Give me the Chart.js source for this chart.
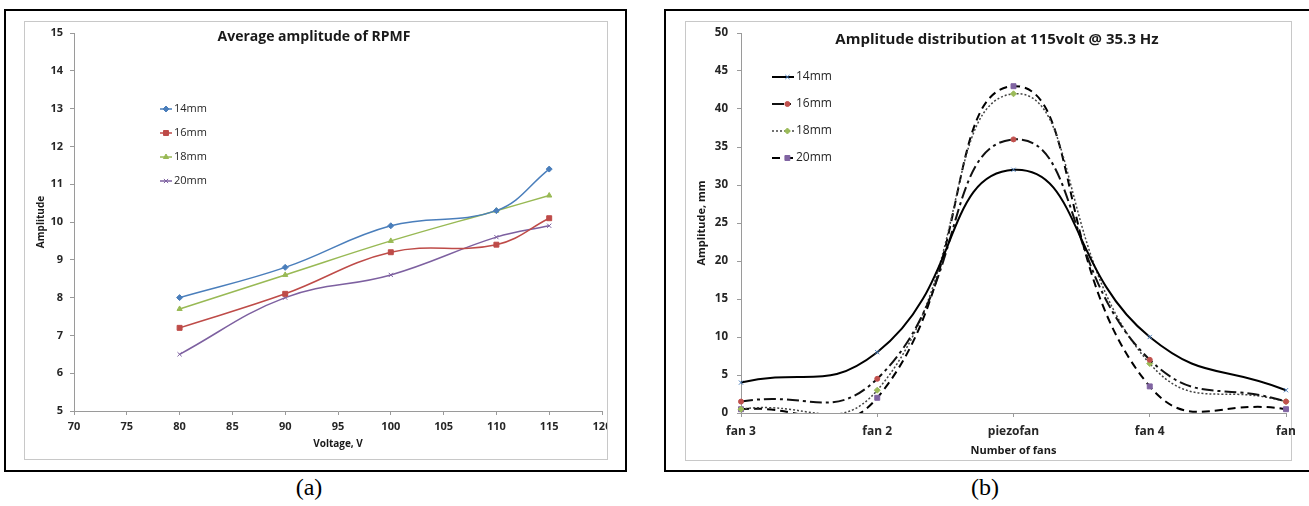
<!DOCTYPE html>
<html>
<head>
<meta charset="utf-8">
<script src="https://cdn.jsdelivr.net/npm/chart.js@4.4.1/dist/chart.umd.min.js"></script>
<style>
body { margin:0; background:#fff; width:1309px; height:506px; position:relative; overflow:hidden; font-family:"Open Sans", sans-serif; }
.frame { position:absolute; border:2px solid #000; box-sizing:border-box; }
.inner { position:absolute; border:1px solid #c8c8c8; box-sizing:border-box; }
.plot { position:absolute; }
.cap { position:absolute; top:474px; width:60px; text-align:center; font-family:"Liberation Serif", serif; font-size:24px; color:#000; }
</style>
</head>
<body>
<div class="frame" style="left:4px;top:9px;width:623px;height:463px"></div>
<div class="inner" style="left:24px;top:21px;width:584px;height:439px"></div>
<div class="plot" style="left:25px;top:22px;width:582px;height:437px"><canvas id="chartA"></canvas></div>
<div class="cap" style="left:279px">(a)</div>

<div class="frame" style="left:664px;top:9px;width:660px;height:463px"></div>
<div class="inner" style="left:685px;top:21px;width:607px;height:440px"></div>
<div class="plot" style="left:686px;top:22px;width:619px;height:438px"><canvas id="chartB"></canvas></div>
<div class="cap" style="left:955px">(b)</div>

<script>
// (a) Average amplitude of RPMF
var voltages = [80, 90, 100, 110, 115];
var amp14 = [8.0, 8.8, 9.9, 10.3, 11.4];
var amp16 = [7.2, 8.1, 9.2, 9.4, 10.1];
var amp18 = [7.7, 8.6, 9.5, 10.3, 10.7];
var amp20 = [6.5, 8.0, 8.6, 9.6, 9.9];
var seriesNames = ["14mm", "16mm", "18mm", "20mm"];

// (b) Amplitude distribution at 115volt
var fans = ["fan 3", "fan 2", "piezofan", "fan 4", "fan"];
var dist14 = [4, 8, 32, 10, 3];
var dist16 = [1.5, 4.5, 36, 7, 1.5];
var dist18 = [0.5, 3, 42, 6.5, 1.5];
var dist20 = [0.5, 2, 43, 3.5, 0.5];

var FONT = 'Open Sans';
function bold(size){ return {family: FONT, weight: 'bold', size: size}; }

// title + legend drawn inside the plot area, like the excel sheet
var insideText = {
    id: 'insideText',
    afterDraw: function (chart){
        var o = chart.options.plugins.insideText;
        var ctx = chart.ctx;
        ctx.save();
        ctx.fillStyle = '#1a1a1a';
        ctx.font = 'bold ' + o.titleSize + 'px "' + FONT + '"';
        ctx.textAlign = 'center';
        ctx.textBaseline = 'middle';
        ctx.fillText(o.title, o.titleX, o.titleY);
        ctx.font = o.legendSize + 'px "' + FONT + '"';
        ctx.fillStyle = '#262626';
        ctx.textAlign = 'left';
        chart.data.datasets.forEach(function (ds, i){
            var y = o.legendY + i * o.legendStep;
            ctx.save();
            ctx.strokeStyle = ds.borderColor;
            ctx.lineWidth = ds.borderWidth;
            ctx.setLineDash(ds.borderDash || []);
            ctx.beginPath();
            ctx.moveTo(o.legendX, y);
            ctx.lineTo(o.legendX + o.lineLen, y);
            ctx.stroke();
            ctx.setLineDash([]);
            ctx.fillStyle = ds.pointBackgroundColor;
            ctx.strokeStyle = ds.pointBorderColor;
            ctx.lineWidth = 1;
            Chart.helpers.drawPoint(ctx, {pointStyle: ds.pointStyle, radius: ds.pointRadius, rotation: 0, borderWidth: 1},
                o.legendX + o.lineLen * o.markAt, y);
            ctx.restore();
            ctx.fillText(ds.label, o.legendX + o.lineLen + 2, y);
        });
        ctx.restore();
    }
};

function xy(values){
    return values.map(function (v, i){ return {x: voltages[i], y: v}; });
}

var colorsA = ['#4A7EBB', '#BE4B48', '#98B954', '#7D60A0'];
var stylesA = ['rectRot', 'rect', 'triangle', 'crossRot'];
var seriesA = [amp14, amp16, amp18, amp20];

new Chart('chartA', {
    type: 'line',
    data: {
        datasets: seriesA.map(function (vals, i){
            return {
                label: seriesNames[i],
                data: xy(vals),
                borderColor: colorsA[i],
                borderWidth: 1.5,
                pointStyle: stylesA[i],
                pointRadius: i === 1 ? 3.5 : 3,
                pointBackgroundColor: colorsA[i],
                pointBorderColor: colorsA[i],
                pointBorderWidth: 1,
                tension: 0.4,
                fill: false
            };
        })
    },
    options: {
        responsive: true,
        maintainAspectRatio: false,
        animation: false,
        layout: {padding: {top: 11, right: 4, left: 0, bottom: 0}},
        plugins: {
            legend: {display: false},
            tooltip: {enabled: false},
            insideText: {
                title: 'Average amplitude of RPMF', titleSize: 14, titleX: 289, titleY: 15,
                legendX: 135, legendY: 87, legendStep: 24, lineLen: 12, markAt: 0.5, legendSize: 11
            }
        },
        scales: {
            x: {
                type: 'linear', min: 70, max: 120,
                ticks: {stepSize: 5, color: '#262626', font: bold(11), padding: 5, maxRotation: 0, autoSkip: false},
                grid: {drawOnChartArea: false, tickLength: 4, color: '#9a9a9a'},
                border: {color: '#9a9a9a'},
                title: {display: true, text: 'Voltage, V', color: '#1a1a1a', font: bold(10), padding: {top: 0, bottom: 9}},
                afterFit: function (s){ s.height = 48; s.paddingLeft = 0; s.paddingRight = 0; }
            },
            y: {
                min: 5, max: 15,
                ticks: {stepSize: 1, color: '#262626', font: bold(11), padding: 7},
                grid: {drawOnChartArea: false, tickLength: 4, color: '#9a9a9a'},
                border: {color: '#9a9a9a'},
                title: {display: true, text: 'Amplitude', color: '#1a1a1a', font: bold(10), padding: {top: 10, bottom: 0}},
                afterFit: function (s){ s.width = 49; s.paddingTop = 0; s.paddingBottom = 0; }
            }
        }
    },
    plugins: [insideText]
});

var markColorsB = ['#4A7EBB', '#C0504D', '#9BBB59', '#8064A2'];
var stylesB = ['crossRot', 'circle', 'rectRot', 'rect'];
var dashesB = [[], [12, 4, 3, 4], [2, 2], [8, 5]];
var linesB = ['#000', '#111', '#444', '#000'];
var widthsB = [2, 2, 1.5, 2];
var radiiB = [3, 2.5, 3, 3.5];
var seriesB = [dist14, dist16, dist18, dist20];

new Chart('chartB', {
    type: 'line',
    data: {
        labels: fans,
        datasets: seriesB.map(function (vals, i){
            return {
                label: seriesNames[i],
                data: vals,
                borderColor: linesB[i],
                borderWidth: widthsB[i],
                borderDash: dashesB[i],
                pointStyle: stylesB[i],
                pointRadius: radiiB[i],
                pointBackgroundColor: markColorsB[i],
                pointBorderColor: markColorsB[i],
                pointBorderWidth: 1,
                tension: 0.5,
                capBezierPoints: false,
                fill: false
            };
        })
    },
    options: {
        responsive: true,
        maintainAspectRatio: false,
        animation: false,
        layout: {padding: {top: 11, right: 19, left: 0, bottom: 0}},
        plugins: {
            legend: {display: false},
            tooltip: {enabled: false},
            insideText: {
                title: 'Amplitude distribution at 115volt @ 35.3 Hz', titleSize: 15, titleX: 311, titleY: 18,
                legendX: 86, legendY: 55, legendStep: 27, lineLen: 22, markAt: 0.7, legendSize: 12
            }
        },
        scales: {
            x: {
                ticks: {color: '#262626', font: bold(12), padding: 7, maxRotation: 0, autoSkip: false},
                grid: {drawOnChartArea: false, tickLength: 4, color: '#9a9a9a'},
                border: {color: '#9a9a9a'},
                title: {display: true, text: 'Number of fans', color: '#1a1a1a', font: bold(11), padding: {top: 0, bottom: 3}},
                afterFit: function (s){ s.height = 47; s.paddingLeft = 0; s.paddingRight = 0; }
            },
            y: {
                min: 0, max: 50,
                ticks: {stepSize: 5, color: '#262626', font: bold(11.5), padding: 9},
                grid: {drawOnChartArea: false, tickLength: 4, color: '#9a9a9a'},
                border: {color: '#9a9a9a'},
                title: {display: true, text: 'Amplitude, mm', color: '#1a1a1a', font: bold(11), padding: {top: 9, bottom: 0}},
                afterFit: function (s){ s.width = 55; s.paddingTop = 0; s.paddingBottom = 0; }
            }
        }
    },
    plugins: [insideText]
});
</script>
</body>
</html>
